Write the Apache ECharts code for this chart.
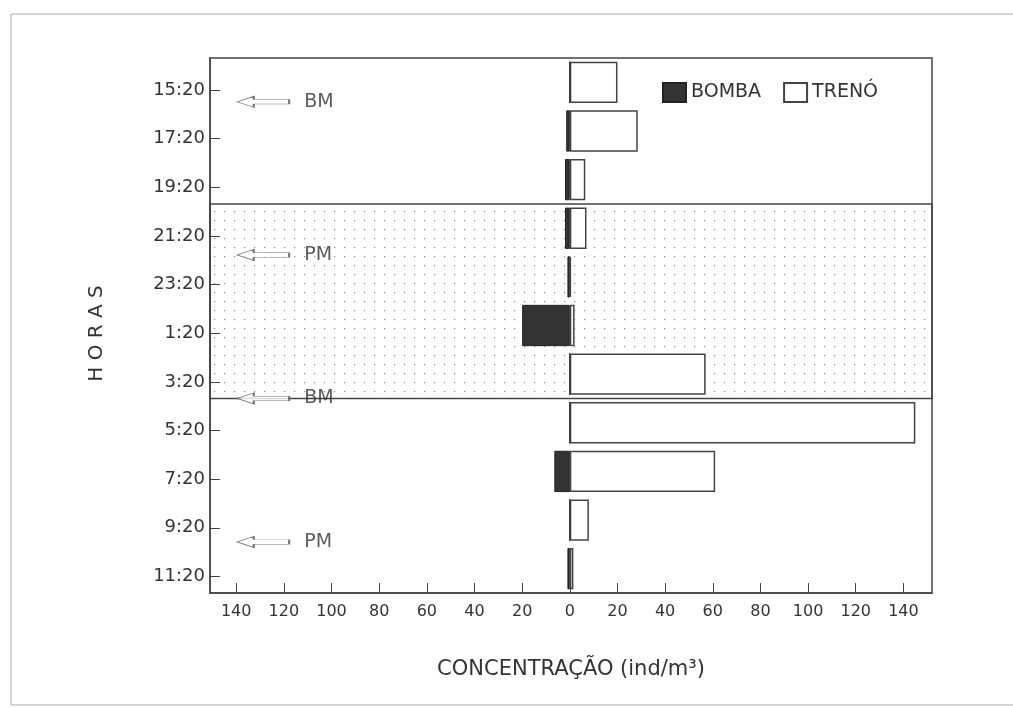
<!DOCTYPE html>
<html>
<head>
<meta charset="utf-8">
<title>Concentração - Bomba x Trenó</title>
<script src="https://cdn.jsdelivr.net/npm/echarts@6/dist/echarts.min.js"></script>
<style>
  html, body { margin: 0; padding: 0; background: #fff; }
  #chart { width: 1013px; height: 708px; }
</style>
</head>
<body>
<div id="chart"></div>
<script>
// horas de coleta (de cima para baixo)
const horas = ['15:20', '17:20', '19:20', '21:20', '23:20', '1:20', '3:20', '5:20', '7:20', '9:20', '11:20'];
// concentração (ind/m3)
const bomba = [0, 1.5, 2, 2, 1, 20, 0, 0, 6.5, 0, 1];
const treno = [20, 28.5, 6.5, 7, 0.5, 2, 57, 145, 61, 8, 1.5];
// valores do eixo x
const xTicks = [-140, -120, -100, -80, -60, -40, -20, 0, 20, 40, 60, 80, 100, 120, 140];
// marés (posição em unidades de categoria, a partir do topo)
const mareLabels = ['BM', 'PM', 'BM', 'PM'];
const marePos = [0.9, 4.05, 7.0, 9.95];
// período noturno sombreado (limites em unidades de categoria)
const noiteInicio = 3;
const noiteFim = 7;

const font = 'DejaVu Sans, Verdana, sans-serif';
const tickShift = 0.66; // os rótulos das horas ficam um pouco abaixo do centro das barras

// padrao pontilhado para a faixa noturna
function dotPattern() {
  const c = document.createElement('canvas');
  c.width = 10;
  c.height = 9;
  const ctx = c.getContext('2d');
  ctx.fillStyle = '#8a8a8a';
  ctx.fillRect(4, 4, 1.2, 1.2);
  return c;
}

const myChart = echarts.init(document.getElementById('chart'));

const option = {
  animation: false,
  backgroundColor: '#fff',
  textStyle: { fontFamily: font },
  graphic: [
    {
      type: 'rect',
      shape: { x: 11, y: 14, width: 1010, height: 691 },
      style: { fill: 'none', stroke: '#aaa', lineWidth: 1 },
      silent: true
    }
  ],
  legend: {
    left: 657,
    top: 77,
    itemWidth: 23,
    itemHeight: 19,
    itemGap: 22,
    icon: 'rect',
    textStyle: { fontSize: 19, color: '#333', fontFamily: font },
    data: ['BOMBA', 'TRENÓ']
  },
  grid: {
    left: 210,
    right: 81,
    top: 58,
    bottom: 115,
    show: true,
    borderColor: '#444',
    borderWidth: 1.5,
    backgroundColor: 'transparent'
  },
  xAxis: {
    type: 'value',
    min: -151,
    max: 152,
    name: 'CONCENTRAÇÃO (ind/m³)',
    nameLocation: 'middle',
    nameGap: 66,
    nameTextStyle: { fontSize: 21, color: '#333', fontFamily: font },
    axisLine: { show: true, onZero: false, lineStyle: { color: '#444', width: 1.5 } },
    axisTick: {
      show: true,
      inside: true,
      length: 10,
      customValues: xTicks,
      lineStyle: { color: '#444', width: 1 }
    },
    axisLabel: {
      customValues: xTicks,
      fontSize: 16,
      color: '#333',
      margin: 11,
      formatter: function (v) { return String(Math.abs(v)); }
    },
    splitLine: { show: false }
  },
  yAxis: [
    {
      type: 'category',
      inverse: true,
      data: horas,
      name: 'H O R A S',
      nameLocation: 'middle',
      nameRotate: 90,
      nameGap: 103,
      nameTextStyle: { fontSize: 20, color: '#333', fontFamily: font, padding: [0, 16, 0, 0] },
      axisLine: { show: true, onZero: false, lineStyle: { color: '#444', width: 1.5 } },
      axisTick: { show: false },
      axisLabel: { show: false },
      splitLine: { show: false }
    },
    {
      // eixo auxiliar em unidades de categoria (rótulos, marés, faixa noturna)
      type: 'value',
      position: 'left',
      inverse: true,
      min: 0,
      max: horas.length,
      axisLine: { show: false, onZero: false },
      axisTick: {
        show: true,
        inside: true,
        length: 10,
        customValues: horas.map(function (h, i) { return i + tickShift; }),
        lineStyle: { color: '#444', width: 1 }
      },
      axisLabel: {
        customValues: horas.map(function (h, i) { return i + tickShift; }),
        fontSize: 18,
        color: '#333',
        margin: 5,
        formatter: function (v) { return horas[Math.round(v - tickShift)]; }
      },
      splitLine: { show: false }
    }
  ],
  series: [
    {
      name: 'mares',
      type: 'scatter',
      xAxisIndex: 0,
      yAxisIndex: 1,
      z: 1,
      symbol: 'path://M0,6 L16,0 L16,3.5 L50,3.5 L50,8.5 L16,8.5 L16,12 Z',
      symbolSize: [52, 11],
      itemStyle: { color: '#fff', borderColor: '#555', borderWidth: 1 },
      label: {
        show: true,
        position: 'right',
        distance: 14,
        fontSize: 19,
        color: '#333',
        fontFamily: font,
        formatter: function (p) { return p.data[2]; }
      },
      data: marePos.map(function (p, i) { return [-128.7, p, mareLabels[i]]; }),
      markArea: {
        silent: true,
        itemStyle: {
          color: { image: dotPattern(), repeat: 'repeat' },
          borderColor: '#444',
          borderWidth: 1.5
        },
        data: [[{ yAxis: noiteInicio }, { yAxis: noiteFim }]]
      }
    },
    {
      name: 'BOMBA',
      type: 'bar',
      stack: 'conc',
      z: 3,
      barCategoryGap: '15%',
      itemStyle: { color: '#333', borderColor: '#222', borderWidth: 1 },
      data: bomba.map(function (v) { return -v; })
    },
    {
      name: 'TRENÓ',
      type: 'bar',
      stack: 'conc',
      z: 3,
      barCategoryGap: '15%',
      itemStyle: { color: '#fff', borderColor: '#444', borderWidth: 1.5 },
      data: treno
    }
  ]
};

myChart.setOption(option);
window.addEventListener('resize', myChart.resize);
</script>
</body>
</html>
